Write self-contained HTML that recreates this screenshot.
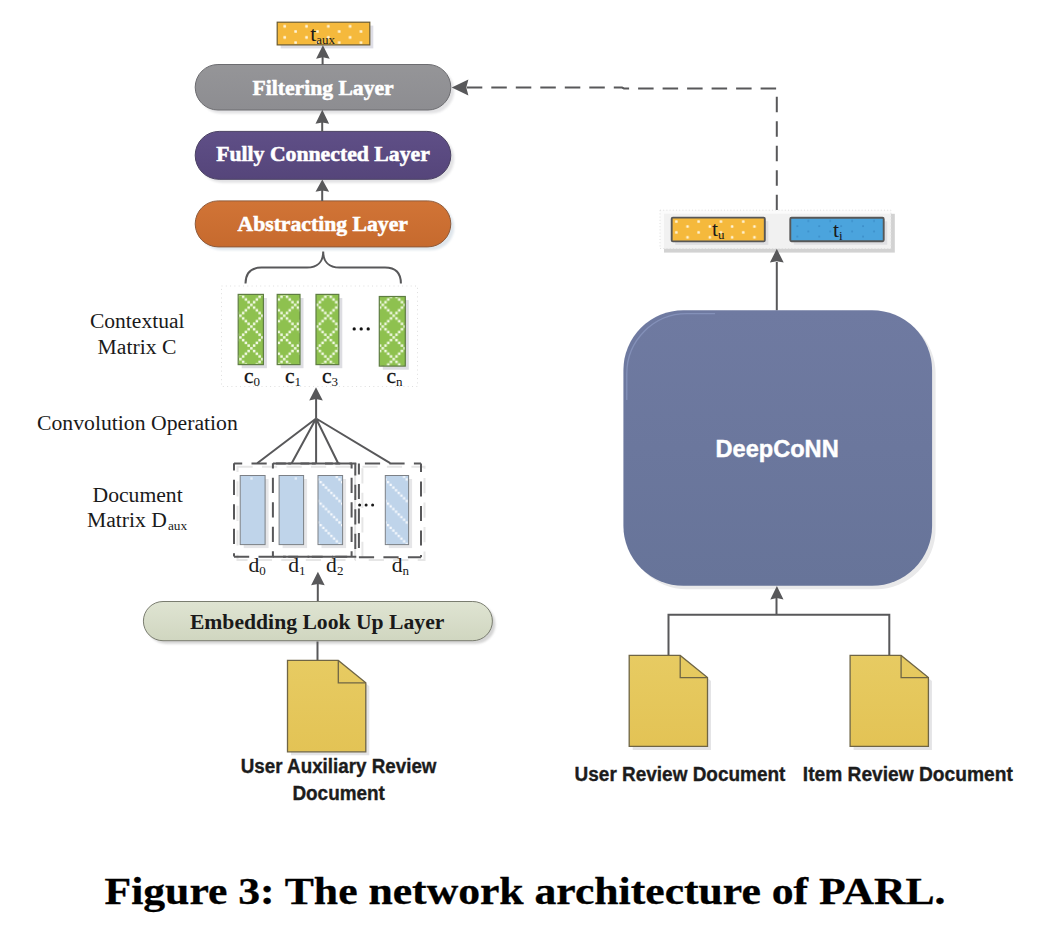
<!DOCTYPE html>
<html>
<head>
<meta charset="utf-8">
<title>Figure 3: The network architecture of PARL</title>
<style>
  html, body { margin: 0; padding: 0; background: #ffffff; }
  body { width: 1058px; height: 940px; overflow: hidden; position: relative; font-family: "Liberation Sans", sans-serif; }
  svg { position: absolute; left: 0; top: 0; display: block; }
  .serif { font-family: "Liberation Serif", serif; }
  .sans { font-family: "Liberation Sans", sans-serif; }
  .pill { font-family: "Liberation Serif", serif; font-weight: bold; font-size: 21.6px; fill: #ffffff; stroke: #ffffff; stroke-width: 0.55px; }
  .lbl { font-family: "Liberation Serif", serif; font-size: 21.6px; fill: #1a1a1a; }
  .doc { font-family: "Liberation Sans", sans-serif; font-weight: bold; font-size: 20px; fill: #1c1c1c; stroke: #1c1c1c; stroke-width: 0.35px; }
  .ln { stroke: #58585a; stroke-width: 2; fill: none; }
  .ah { fill: #58585a; stroke: none; }
</style>
</head>
<body>
<svg width="1058" height="940" viewBox="0 0 1058 940">
  <defs>
    <filter id="sh" x="-10%" y="-10%" width="125%" height="130%">
      <feGaussianBlur stdDeviation="0.8"/>
    </filter>
    <linearGradient id="gGray" x1="0" y1="0" x2="0" y2="1">
      <stop offset="0" stop-color="#959598"/><stop offset="1" stop-color="#8d8d91"/>
    </linearGradient>
    <linearGradient id="gPurple" x1="0" y1="0" x2="0" y2="1">
      <stop offset="0" stop-color="#5f4f87"/><stop offset="1" stop-color="#55457a"/>
    </linearGradient>
    <linearGradient id="gOrange" x1="0" y1="0" x2="0" y2="1">
      <stop offset="0" stop-color="#d17436"/><stop offset="1" stop-color="#c66a2e"/>
    </linearGradient>
    <linearGradient id="gEmb" x1="0" y1="0" x2="0" y2="1">
      <stop offset="0" stop-color="#dfe4d2"/><stop offset="1" stop-color="#d0d6c0"/>
    </linearGradient>
    <linearGradient id="gDeep" x1="0" y1="0" x2="0" y2="1">
      <stop offset="0" stop-color="#6f7aa1"/><stop offset="1" stop-color="#677499"/>
    </linearGradient>
    <linearGradient id="gDoc" x1="0" y1="0" x2="0" y2="1">
      <stop offset="0" stop-color="#e7cb62"/><stop offset="1" stop-color="#e3c355"/>
    </linearGradient>
    <pattern id="pYelA" x="283.1" y="24.7" width="21.8" height="11.1" patternUnits="userSpaceOnUse">
      <rect width="21.8" height="11.1" fill="#f5b93c"/>
      <rect x="0.3" y="0.3" width="2.6" height="2.6" rx="0.5" fill="#fff4d8"/>
      <rect x="11.2" y="5.6" width="2.6" height="2.6" rx="0.5" fill="#fff4d8"/>
    </pattern>
    <pattern id="pYelU" x="674.9" y="220.1" width="22.3" height="10.8" patternUnits="userSpaceOnUse">
      <rect width="22.3" height="10.8" fill="#f5b93c"/>
      <rect x="0.2" y="0.2" width="2.5" height="2.5" rx="0.5" fill="#fff4d8"/>
      <rect x="11.4" y="5.2" width="2.5" height="2.5" rx="0.5" fill="#fff4d8"/>
    </pattern>
    <pattern id="pBlu" x="796.3" y="225.2" width="21.9" height="10.4" patternUnits="userSpaceOnUse">
      <rect width="21.9" height="10.4" fill="#4ba4dd"/>
      <rect x="0.1" y="0.1" width="1.9" height="1.9" rx="0.6" fill="#3d90cb"/>
      <rect x="11.1" y="5.3" width="1.9" height="1.9" rx="0.6" fill="#3d90cb"/>
    </pattern>
    <pattern id="pGrn" x="250.03" y="303.54" width="21.9" height="21.7" patternUnits="userSpaceOnUse">
      <rect width="21.9" height="21.7" fill="#8ec14f"/><rect x="0.12" y="0.11" width="2.5" height="2.5" fill="#f3fae6"/><rect x="2.86" y="2.82" width="2.5" height="2.5" fill="#f3fae6"/><rect x="2.86" y="19.09" width="2.5" height="2.5" fill="#f3fae6"/><rect x="5.59" y="5.53" width="2.5" height="2.5" fill="#f3fae6"/><rect x="5.59" y="16.38" width="2.5" height="2.5" fill="#f3fae6"/><rect x="8.33" y="8.24" width="2.5" height="2.5" fill="#f3fae6"/><rect x="8.33" y="13.67" width="2.5" height="2.5" fill="#f3fae6"/><rect x="11.07" y="10.96" width="2.5" height="2.5" fill="#f3fae6"/><rect x="13.81" y="8.24" width="2.5" height="2.5" fill="#f3fae6"/><rect x="13.81" y="13.67" width="2.5" height="2.5" fill="#f3fae6"/><rect x="16.54" y="5.53" width="2.5" height="2.5" fill="#f3fae6"/><rect x="16.54" y="16.38" width="2.5" height="2.5" fill="#f3fae6"/><rect x="19.28" y="2.82" width="2.5" height="2.5" fill="#f3fae6"/><rect x="19.28" y="19.09" width="2.5" height="2.5" fill="#f3fae6"/>
    </pattern>
    <pattern id="pDia" x="-1.36" y="2.64" width="21.5" height="21.5" patternUnits="userSpaceOnUse">
      <rect width="21.5" height="21.5" fill="#bfd4ea"/><rect x="0.21" y="0.21" width="2.3" height="2.3" fill="#f6f9fd"/><rect x="2.89" y="2.89" width="2.3" height="2.3" fill="#f6f9fd"/><rect x="5.58" y="5.58" width="2.3" height="2.3" fill="#f6f9fd"/><rect x="8.27" y="8.27" width="2.3" height="2.3" fill="#f6f9fd"/><rect x="10.96" y="10.96" width="2.3" height="2.3" fill="#f6f9fd"/><rect x="13.64" y="13.64" width="2.3" height="2.3" fill="#f6f9fd"/><rect x="16.33" y="16.33" width="2.3" height="2.3" fill="#f6f9fd"/><rect x="19.02" y="19.02" width="2.3" height="2.3" fill="#f6f9fd"/>
    </pattern>
  </defs>

  <!-- ===== LEFT COLUMN ===== -->
  <g id="taux">
    <rect x="280.7" y="25.6" width="92.6" height="22.8" fill="#dedee6"/>
    <rect x="277.2" y="22.2" width="92.6" height="22.7" fill="url(#pYelA)" stroke="#6a5a30" stroke-width="1.2"/>
    <text class="serif" x="310.2" y="40.5" font-size="21.6" fill="#1a1a1a">t<tspan font-size="13" dy="3">aux</tspan></text>
  </g>

  <g id="pills">
    <rect x="198.6" y="67.9" width="255.6" height="45.5" rx="22.75" fill="#e2e2e4" filter="url(#sh)"/>
    <rect x="195.2" y="64.5" width="255.6" height="45.5" rx="22.75" fill="url(#gGray)" stroke="#6c6c70" stroke-width="1"/>
    <text class="pill" x="252.5" y="94.6" textLength="141.2" lengthAdjust="spacingAndGlyphs">Filtering Layer</text>

    <rect x="198.6" y="134.8" width="255.6" height="47.9" rx="23.95" fill="#e2e2e4" filter="url(#sh)"/>
    <rect x="195.2" y="131.4" width="255.6" height="47.9" rx="23.95" fill="url(#gPurple)" stroke="#4a4163" stroke-width="1"/>
    <text class="pill" x="216.2" y="161.3" textLength="213.6" lengthAdjust="spacingAndGlyphs">Fully Connected Layer</text>

    <rect x="198.6" y="204.3" width="255.6" height="46" rx="23" fill="#dfe6ec" filter="url(#sh)"/>
    <rect x="195.2" y="200.9" width="255.6" height="46" rx="23" fill="url(#gOrange)" stroke="#8e5a3a" stroke-width="1"/>
    <text class="pill" x="237.5" y="230.6" textLength="170.4" lengthAdjust="spacingAndGlyphs">Abstracting Layer</text>
  </g>

  <g id="left-arrows">
    <!-- filtering -> taux -->
    <path class="ln" d="M322.6 64.5 V56"/><path class="ah" d="M322.9 45.2 L329.7 58.7 L322.9 57.300000000000004 L316.09999999999997 58.7 Z"/>
    <!-- fc -> filtering -->
    <path class="ln" d="M322.2 131.4 V121"/><path class="ah" d="M322.3 109.8 L329.1 123.8 L322.3 122.39999999999999 L315.5 123.8 Z"/>
    <!-- abstracting -> fc -->
    <path class="ln" d="M322.2 201 V190"/><path class="ah" d="M322.3 179.6 L329.1 191.79999999999998 L322.3 190.39999999999998 L315.5 191.79999999999998 Z"/>
  </g>

  <g id="left-mid">
    <!-- brace -->
    <path class="ln" d="M245.5 283.6 C245.5 273 250.5 267.6 261.5 267.6 L307 267.6 C317.5 267.6 323.2 261.5 323.2 251.6 C323.2 261.5 329 267.6 339.5 267.6 L385 267.6 C396 267.6 400.9 273 400.9 283.6" stroke="#4c4c4e"/>
    <!-- dotted container -->
    <rect x="221.5" y="286" width="196" height="100.5" fill="none" stroke="#dedede" stroke-width="1" stroke-dasharray="1 3.3"/>
    <!-- green bars -->
    <g>
      <rect x="241.7" y="298" width="25.2" height="70.2" fill="#dddde2"/>
      <rect x="238.2" y="294.4" width="25.2" height="70.2" fill="url(#pGrn)" stroke="#5e7d42" stroke-width="1.2"/>
      <rect x="280.7" y="298" width="22.8" height="70.2" fill="#dddde2"/>
      <rect x="277.2" y="294.4" width="22.8" height="70.2" fill="url(#pGrn)" stroke="#5e7d42" stroke-width="1.2"/>
      <rect x="319.5" y="298" width="22.8" height="70.2" fill="#dddde2"/>
      <rect x="316" y="294.4" width="22.8" height="70.2" fill="url(#pGrn)" stroke="#5e7d42" stroke-width="1.2"/>
      <rect x="382.8" y="300.1" width="26" height="69.6" fill="#dddde2"/>
      <rect x="379.3" y="296.5" width="26" height="69.6" fill="url(#pGrn)" stroke="#5e7d42" stroke-width="1.2"/>
    </g>
    <circle cx="354.2" cy="328.9" r="1.65" fill="#111"/><circle cx="361.2" cy="328.9" r="1.65" fill="#111"/><circle cx="368.2" cy="328.9" r="1.65" fill="#111"/>
    <text class="serif" x="244" y="382.6" font-size="21.6" fill="#111" stroke="#111" stroke-width="0.3">c<tspan stroke="none" font-size="13" dy="3">0</tspan></text>
    <text class="serif" x="285" y="382.6" font-size="21.6" fill="#111" stroke="#111" stroke-width="0.3">c<tspan stroke="none" font-size="13" dy="3">1</tspan></text>
    <text class="serif" x="321.9" y="382.6" font-size="21.6" fill="#111" stroke="#111" stroke-width="0.3">c<tspan stroke="none" font-size="13" dy="3">3</tspan></text>
    <text class="serif" x="386.5" y="382.6" font-size="21.6" fill="#111" stroke="#111" stroke-width="0.3">c<tspan stroke="none" font-size="13" dy="3">n</tspan></text>

    <text class="lbl" x="89.9" y="327.7" textLength="94.6" lengthAdjust="spacingAndGlyphs">Contextual</text>
    <text class="lbl" x="97.6" y="354" textLength="78.9" lengthAdjust="spacingAndGlyphs">Matrix C</text>
    <text class="lbl" x="37" y="429.5" textLength="200.8" lengthAdjust="spacingAndGlyphs">Convolution Operation</text>
    <text class="lbl" x="92.5" y="501.5" textLength="90.2" lengthAdjust="spacingAndGlyphs">Document</text>
    <text class="lbl" x="87" y="527.4">Matrix D<tspan font-size="13.3" dy="3" dx="1.2">aux</tspan></text>

    <!-- arrow into C container + fan -->
    <path class="ln" d="M316.1 418.5 V398"/><path class="ah" d="M316 387.2 L322.8 400.5 L316 399.1 L309.2 400.5 Z"/>
    <path class="ln" d="M316.1 418.5 L257.2 463.2 M316.1 418.5 L291.7 463.2 M316.1 418.5 V463.2 M316.1 418.5 L338.1 463.2 M316.1 418.5 L390.2 463.2"/>
  </g>
  <g id="left-bottom">
    <!-- dashed windows -->
    <g fill="none" stroke="#e6e6e6" stroke-width="2" stroke-dasharray="15.2 9.3">
      <rect x="237.5" y="466.7" width="117.6" height="93.3"/>
      <rect x="362.4" y="466.7" width="62.1" height="93.3"/>
    </g>
    <g fill="none" stroke="#58585a" stroke-width="2" stroke-dasharray="15.2 9.3">
      <!-- window 1 (d0 d1 d2) -->
      <path d="M234 463.5 H352" stroke-dashoffset="7"/>
      <path d="M234 556.5 V463.2" stroke-dashoffset="11.9"/>
      <path d="M234 556.8 H352" stroke-dashoffset="0"/>
      <path d="M351.6 463.2 V556.5" stroke-dashoffset="10"/>
      <!-- window 2 (d1 d2) -->
      <path d="M272.9 463.2 V556.5" stroke-dashoffset="10"/>
      <path d="M355.3 463.2 V556.5" stroke-dashoffset="3"/>
      <!-- window 3 (dn) -->
      <path d="M358.9 463.4 H421" stroke-dashoffset="18.5"/>
      <path d="M421 463.4 V557.2" stroke-dashoffset="6.5"/>
      <path d="M358.9 557.2 H421" stroke-dashoffset="0"/>
      <path d="M358.9 463.4 V557.2" stroke-dashoffset="4"/>
    </g>
    <path d="M356.3 463.5 H272.9 M356.3 556.8 H272.9" fill="none" stroke="#58585a" stroke-width="2" stroke-dasharray="21 2.5"/>
    <!-- blue bars -->
    <g>
      <rect x="243.7" y="479" width="24.9" height="69.1" fill="#e6e6e8"/>
      <rect x="240.2" y="475.5" width="24.9" height="69.1" fill="#bfd4ea" stroke="#7c8086" stroke-width="1"/>
      <rect x="282.6" y="479" width="24.5" height="69.1" fill="#e6e6e8"/>
      <rect x="279.1" y="475.5" width="24.5" height="69.1" fill="#bfd4ea" stroke="#7c8086" stroke-width="1"/>
      <rect x="321.5" y="479" width="24.6" height="69.1" fill="#e6e6e8"/>
      <g transform="translate(318 475.5)"><rect x="0" y="0" width="24.6" height="69.1" fill="url(#pDia)" stroke="#7c8086" stroke-width="1"/></g>
      <rect x="388.8" y="479" width="23.3" height="69.1" fill="#e6e6e8"/>
      <g transform="translate(385.3 475.5)"><rect x="0" y="0" width="23.3" height="69.1" fill="url(#pDia)" stroke="#7c8086" stroke-width="1"/></g>
    </g>
    <rect x="250.3" y="477.3" width="2.4" height="2.4" fill="#e3edf7"/><rect x="294.6" y="477.3" width="2.4" height="2.4" fill="#e3edf7"/>
    <circle cx="359.6" cy="505" r="1.5" fill="#1a1a1a"/><circle cx="366.1" cy="505" r="1.5" fill="#1a1a1a"/><circle cx="372.6" cy="505" r="1.5" fill="#1a1a1a"/>
    <text class="serif" x="248.5" y="572.3" font-size="21.6" fill="#1a1a1a">d<tspan font-size="13" dy="3">0</tspan></text>
    <text class="serif" x="288.3" y="572.3" font-size="21.6" fill="#1a1a1a">d<tspan font-size="13" dy="3">1</tspan></text>
    <text class="serif" x="326.1" y="572.3" font-size="21.6" fill="#1a1a1a">d<tspan font-size="13" dy="3">2</tspan></text>
    <text class="serif" x="391.8" y="572.3" font-size="21.6" fill="#1a1a1a">d<tspan font-size="13" dy="3">n</tspan></text>

    <!-- arrow embed -> D -->
    <path class="ln" d="M317.8 601.5 V584"/><path class="ah" d="M317.9 571.8 L324.7 585.3 L317.9 583.9 L311.09999999999997 585.3 Z"/>

    <!-- embedding pill -->
    <rect x="146.4" y="604.6" width="349" height="39.2" rx="19.6" fill="#d4d4d4" filter="url(#sh)"/>
    <rect x="143.4" y="601.5" width="349" height="39.2" rx="19.6" fill="url(#gEmb)" stroke="#7a7d70" stroke-width="1"/>
    <text class="serif" x="189.9" y="629.1" textLength="254.5" lengthAdjust="spacingAndGlyphs" font-size="21.6" font-weight="bold" fill="#1a1a1a">Embedding Look Up Layer</text>

    <!-- doc -> embedding -->
    <path class="ln" d="M317.5 660.5 V641.5"/>
    <!-- doc icon -->
    <path d="M291.0 663.9 H341.8 L369.3 686.3 V755.3 H291.0 Z" fill="#e4e4e6"/>
    <path d="M287.5 660.4 H338.3 L365.8 682.8 V751.8 H287.5 Z" fill="url(#gDoc)" stroke="#6f6545" stroke-width="1.3" stroke-linejoin="miter"/>
    <path d="M338.3 660.4 V682.8 H365.8" fill="none" stroke="#6f6545" stroke-width="1.3"/>
    <text class="doc" x="240.8" y="772.9" textLength="195.7" lengthAdjust="spacingAndGlyphs">User Auxiliary Review</text>
    <text class="doc" x="292.4" y="799.5" textLength="92.5" lengthAdjust="spacingAndGlyphs">Document</text>
  </g>
  <g id="right">
    <!-- dashed feedback path -->
    <path d="M466.8 87.5 H622 L624 88.4 H776.8 V210" fill="none" stroke="#58585a" stroke-width="2" stroke-dasharray="15.5 9"/>
    <path class="ah" d="M451.7 87.5 L468.4 79.4 L466.3 87.5 L468.4 95.6 Z"/>

    <!-- tu / ti container -->
    <rect x="664" y="213.8" width="230.8" height="38.8" fill="#d2d2d2"/>
    <rect x="660" y="210.2" width="231" height="38.3" fill="#fbfbfb"/>
    <rect x="664" y="213.8" width="227" height="34.7" fill="#f1f1f1"/>
    <rect x="660" y="210.2" width="231" height="38.3" fill="none" stroke="#dedede" stroke-width="1" stroke-dasharray="1 2.2"/>
    <rect x="675.2" y="221.1" width="93.1" height="23.8" fill="#dfdfe2"/>
    <rect x="671.7" y="217.6" width="93.1" height="23.8" rx="1.2" fill="url(#pYelU)" stroke="#575757" stroke-width="1.9"/>
    <rect x="793.8" y="221.3" width="93.4" height="23.4" fill="#dfdfe2"/>
    <rect x="790.3" y="217.8" width="93.4" height="23.4" rx="1.2" fill="url(#pBlu)" stroke="#575757" stroke-width="1.9"/>
    <text class="serif" x="712.1" y="236.4" font-size="21.6" fill="#1a1a1a">t<tspan font-size="13" dy="3">u</tspan></text>
    <text class="serif" x="833.1" y="236.5" font-size="21.6" fill="#1a1a1a">t<tspan font-size="13" dy="3">i</tspan></text>

    <!-- deepconn -> t -->
    <path class="ln" d="M776.8 310.5 V262"/><path class="ah" d="M776.8 248.8 L783.6999999999999 262.6 L776.8 261.20000000000005 L769.9 262.6 Z"/>

    <!-- DeepCoNN block -->
    <rect x="626.9" y="313.8" width="308.7" height="275.4" rx="60" fill="#e9e9ea"/>
    <rect x="623.4" y="310.3" width="308.7" height="275.4" rx="60" fill="url(#gDeep)"/>
    <path d="M626.8 400 V373.7 A60 60 0 0 1 686.8 313.7 H715" fill="none" stroke="#93a0c9" stroke-opacity="0.6" stroke-width="1.3"/>
    <text class="sans" x="715.5" y="456.7" textLength="123.2" lengthAdjust="spacingAndGlyphs" font-size="24.6" font-weight="bold" fill="#ffffff" stroke="#ffffff" stroke-width="0.45">DeepCoNN</text>

    <!-- docs -> deepconn -->
    <path class="ln" d="M668.5 655.5 V614.7 H889.3 V655.5"/>
    <path class="ln" d="M776.5 614.7 V598"/><path class="ah" d="M776.9 586.1 L783.5 599.5 L776.9 598.1 L770.3 599.5 Z"/>

    <!-- user review doc -->
    <path d="M632.7 658.9 H683.7 L711.0 681.1 V749.9 H632.7 Z" fill="#e4e4e6"/>
    <path d="M629.2 655.4 H680.2 L707.5 677.6 V746.4 H629.2 Z" fill="url(#gDoc)" stroke="#6f6545" stroke-width="1.3" stroke-linejoin="miter"/>
    <path d="M680.2 655.4 V677.6 H707.5" fill="none" stroke="#6f6545" stroke-width="1.3"/>
    <!-- item review doc -->
    <path d="M853.6 658.9 H904.6 L931.9 681.1 V749.9 H853.6 Z" fill="#e4e4e6"/>
    <path d="M850.1 655.4 H901.1 L928.4 677.6 V746.4 H850.1 Z" fill="url(#gDoc)" stroke="#6f6545" stroke-width="1.3" stroke-linejoin="miter"/>
    <path d="M901.1 655.4 V677.6 H928.4" fill="none" stroke="#6f6545" stroke-width="1.3"/>
    <text class="doc" x="574.6" y="781.1" textLength="210.8" lengthAdjust="spacingAndGlyphs">User Review Document</text>
    <text class="doc" x="802.8" y="781.1" textLength="210" lengthAdjust="spacingAndGlyphs">Item Review Document</text>
  </g>

  <g id="caption">
    <text id="cap" class="serif" x="104.5" y="903.7" textLength="841" lengthAdjust="spacingAndGlyphs" font-size="37.6" font-weight="bold" fill="#000000" stroke="#000000" stroke-width="0.3">Figure 3: The network architecture of PARL.</text>
  </g>
</svg>
</body>
</html>
